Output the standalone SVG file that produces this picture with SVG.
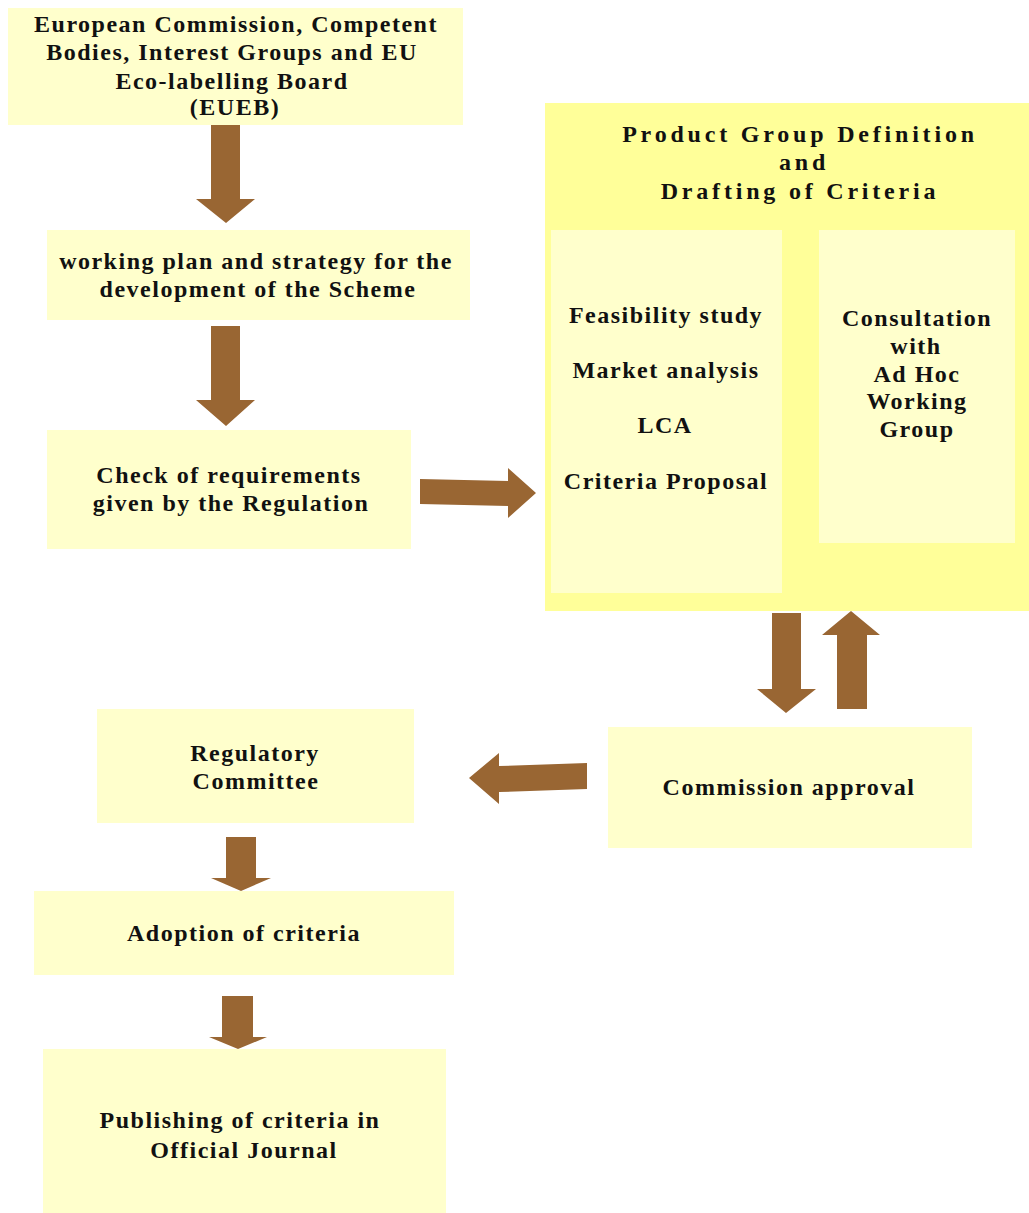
<svg xmlns="http://www.w3.org/2000/svg" width="1029" height="1213" viewBox="0 0 1029 1213">
<style>
.box{fill:#FFFFCC}
.big{fill:#FFFF99}
.arr{fill:#996633}
text{font-family:"Liberation Serif","Times New Roman",serif;font-weight:bold;font-size:24px;fill:#111;text-anchor:middle;letter-spacing:1.5px}
.title{letter-spacing:3.8px}
</style>
<rect width="1029" height="1213" fill="#FFFFFF"/>
<g id="eueb">
<rect class="box" x="8" y="8" width="455" height="117"/>
<text x="236" y="32">European Commission, Competent</text>
<text x="232" y="60">Bodies, Interest Groups and EU</text>
<text x="232" y="89">Eco-labelling Board</text>
<text x="235" y="115">(EUEB)</text>
</g>
<g id="working-plan">
<rect class="box" x="47" y="230" width="423" height="90"/>
<text x="256" y="269">working plan and strategy for the</text>
<text x="258" y="297">development of the Scheme</text>
</g>
<g id="check-requirements">
<rect class="box" x="47" y="430" width="364" height="119"/>
<text x="229" y="483">Check of requirements</text>
<text x="231" y="511">given by the Regulation</text>
</g>
<g id="product-group">
<rect class="big" x="545" y="103" width="484" height="508"/>
<text class="title" x="800" y="142">Product Group Definition</text>
<text class="title" x="804" y="170">and</text>
<text class="title" x="800" y="199">Drafting of Criteria</text>
</g>
<g id="studies">
<rect class="box" x="551" y="230" width="231" height="363"/>
<text x="666" y="323">Feasibility study</text>
<text x="666" y="378">Market analysis</text>
<text x="665" y="433">LCA</text>
<text x="666" y="489">Criteria Proposal</text>
</g>
<g id="consultation">
<rect class="box" x="819" y="230" width="196" height="313"/>
<text x="917" y="326">Consultation</text>
<text x="916" y="354">with</text>
<text x="917" y="382">Ad Hoc</text>
<text x="917" y="409">Working</text>
<text x="917" y="437">Group</text>
</g>
<g id="commission-approval">
<rect class="box" x="608" y="727" width="364" height="121"/>
<text x="789" y="795">Commission approval</text>
</g>
<g id="regulatory-committee">
<rect class="box" x="97" y="709" width="317" height="114"/>
<text x="255" y="761">Regulatory</text>
<text x="256" y="789">Committee</text>
</g>
<g id="adoption">
<rect class="box" x="34" y="891" width="420" height="84"/>
<text x="244" y="941">Adoption of criteria</text>
</g>
<g id="publishing">
<rect class="box" x="43" y="1049" width="403" height="164"/>
<text x="240" y="1128">Publishing of criteria in</text>
<text x="244" y="1158">Official Journal</text>
</g>
<g id="connectors">
<polygon class="arr" points="211,125 240,125 240,199 255,199 226,223 196,199 211,199"/>
<polygon class="arr" points="211,326 240,326 240,400 255,400 226,426 196,400 211,400"/>
<polygon class="arr" points="420,479 508,481 508,468 536,493 508,518 508,506 420,504"/>
<polygon class="arr" points="772,613 801,613 801,689 816,689 786,713 757,689 772,689"/>
<polygon class="arr" points="837,709 867,709 867,635 880,635 851,611 822,635 837,635"/>
<polygon class="arr" points="469,778 499,753 499,766 587,763 587,789 499,792 499,804"/>
<polygon class="arr" points="226,837 256,837 256,878 271,878 241,891 211,878 226,878"/>
<polygon class="arr" points="222,996 253,996 253,1037 267,1037 238,1049 209,1037 222,1037"/>
</g>
</svg>
